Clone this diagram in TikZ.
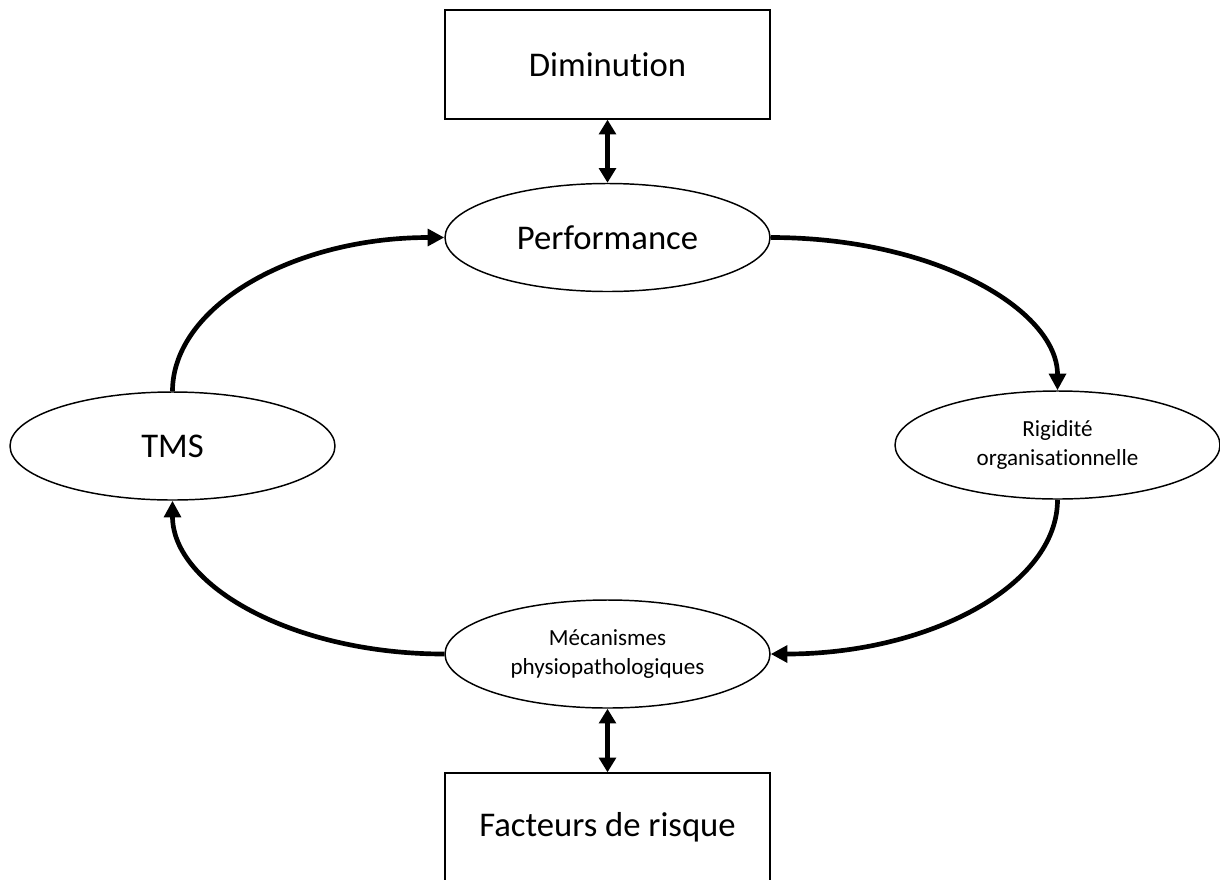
\documentclass[tikz,border=0pt]{standalone}
\usepackage{fontspec}
\setmainfont{Carlito}[Ligatures=NoCommon]
\usetikzlibrary{shapes.geometric,arrows.meta}
\tikzset{
  x=0.75pt, y=-0.75pt,
  bigtext/.style={font=\fontsize{26}{31}\selectfont},
  smalltext/.style={font=\fontsize{17.3}{21.5}\selectfont, align=center},
  oval/.style={ellipse, draw, line width=1.1pt, fill=white, minimum width=243.75pt, minimum height=81pt, inner sep=0pt},
  boxnode/.style={rectangle, draw, line width=1pt, fill=white, minimum width=243.75pt, minimum height=81.75pt, inner sep=0pt},
  cycle arrow/.style={line width=3.5pt, -{Triangle[length=12.5pt,width=12.5pt]}},
  dbl arrow/.style={line width=3.5pt, {Triangle[length=11pt,width=12.5pt]}-{Triangle[length=11pt,width=12.5pt]}}
}
\begin{document}
\begin{tikzpicture}
\useasboundingbox (0,0) rectangle (1220,879);
\clip (0,0) rectangle (1220,879);
\fill[white] (0,0) rectangle (1220,879);

\node[boxnode, bigtext] (dim) at (607.5,64.5) {Diminution};
\node[boxnode, bigtext] (fac) at (607.5,827.5) {Facteurs de risque};

\node[oval, bigtext] (perf) at (607.5,237.5) {Performance};
\node[oval, bigtext] (tms) at (172.5,446) {TMS};
\node[oval, smalltext] (rig) at (1057.5,445) {Rigidité\\organisationnelle};
\node[oval, smalltext] (meca) at (607.5,654) {Mécanismes\\physiopathologiques};

\draw[dbl arrow] (dim.south) -- (perf.north);
\draw[dbl arrow] (meca.south) -- (fac.north);

\draw[cycle arrow] (perf.east) .. controls +(165,0) and +(0,-80) .. (rig.north);
\draw[cycle arrow] (rig.south) .. controls +(0,86) and +(158,0) .. (meca.east);
\draw[cycle arrow] (meca.west) .. controls +(-151,0) and +(0,85) .. (tms.south);
\draw[cycle arrow] (tms.north) .. controls +(0,-85) and +(-151,0) .. (perf.west);
\end{tikzpicture}
\end{document}
